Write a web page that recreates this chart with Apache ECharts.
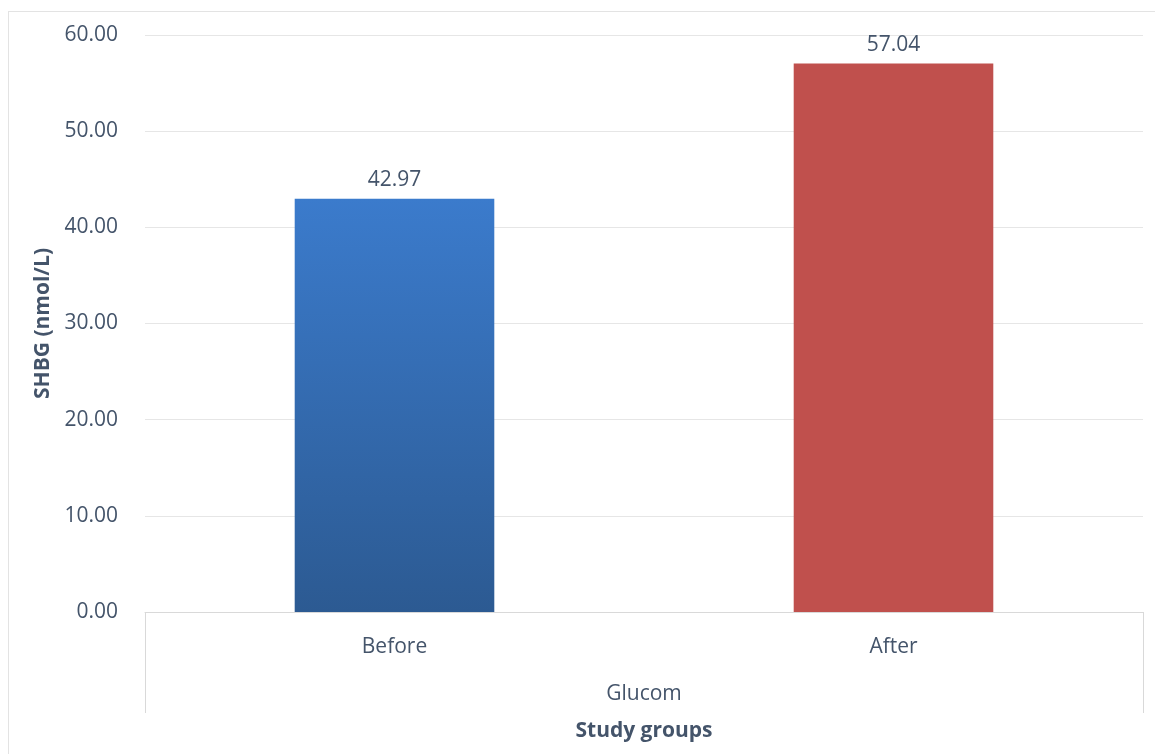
<!DOCTYPE html>
<html>
<head>
<meta charset="utf-8">
<script src="https://cdn.jsdelivr.net/npm/echarts@6/dist/echarts.min.js"></script>
<style>
html,body{margin:0;padding:0;background:#fff;}
#frame{position:absolute;left:8px;top:11px;width:1160px;height:760px;border-top:1px solid #e3e3e3;border-left:1px solid #e3e3e3;}
#chart{position:absolute;left:0;top:0;width:1155px;height:754px;}
</style>
</head>
<body>
<div id="frame"></div>
<div id="chart"></div>
<script>
const categories = ['Before', 'After'];
const groupLabels = ['Glucom'];
const values = [42.97, 57.04];
const yTicks = [0, 10, 20, 30, 40, 50, 60];
const yAxisTitle = 'SHBG (nmol/L)';
const xAxisTitle = 'Study groups';

const txt = '#44546a';
const font = '"Open Sans", sans-serif';
const chart = echarts.init(document.getElementById('chart'), null, {renderer: 'canvas'});
const barColors = [
  new echarts.graphic.LinearGradient(0, 0, 0, 1, [
    {offset: 0, color: '#3b7bcc'},
    {offset: 1, color: '#2c5a92'}
  ]),
  '#c0504d'
];
chart.setOption({
  animation: false,
  grid: {left: 145, right: 12, top: 35, bottom: 142, containLabel: false},
  xAxis: [
    {
      type: 'category',
      data: categories,
      position: 'bottom',
      axisLine: {show: true, lineStyle: {color: '#d9d9d9', width: 1}},
      axisTick: {show: false},
      axisLabel: {color: txt, fontFamily: font, fontSize: 21, margin: 25}
    },
    {
      type: 'category',
      data: groupLabels,
      position: 'bottom',
      axisLine: {show: false},
      axisTick: {show: true, length: 101, lineStyle: {color: '#d9d9d9', width: 1}},
      axisLabel: {color: txt, fontFamily: font, fontSize: 21, margin: 72},
      name: xAxisTitle,
      nameLocation: 'middle',
      nameGap: 109,
      nameTextStyle: {color: txt, fontFamily: font, fontSize: 21, fontWeight: 'bold'}
    }
  ],
  yAxis: {
    type: 'value',
    min: yTicks[0],
    max: yTicks[yTicks.length - 1],
    interval: 10,
    axisLine: {show: false},
    axisTick: {show: false},
    splitLine: {lineStyle: {color: '#e6e6e6', width: 1}},
    axisLabel: {color: txt, fontFamily: font, fontSize: 21, margin: 27,
      formatter: v => v.toFixed(2)},
    name: yAxisTitle,
    nameLocation: 'middle',
    nameRotate: 90,
    nameGap: 88,
    nameTextStyle: {color: txt, fontFamily: font, fontSize: 21, fontWeight: 'bold'}
  },
  series: [{
    type: 'bar',
    xAxisIndex: 0,
    barWidth: '40%',
    data: values.map((v, i) => ({value: v, itemStyle: {color: barColors[i]}})),
    label: {
      show: true,
      position: 'top',
      distance: 8,
      color: txt,
      fontFamily: font,
      fontSize: 21,
      formatter: p => p.value.toFixed(2)
    }
  }]
});
</script>
</body>
</html>
